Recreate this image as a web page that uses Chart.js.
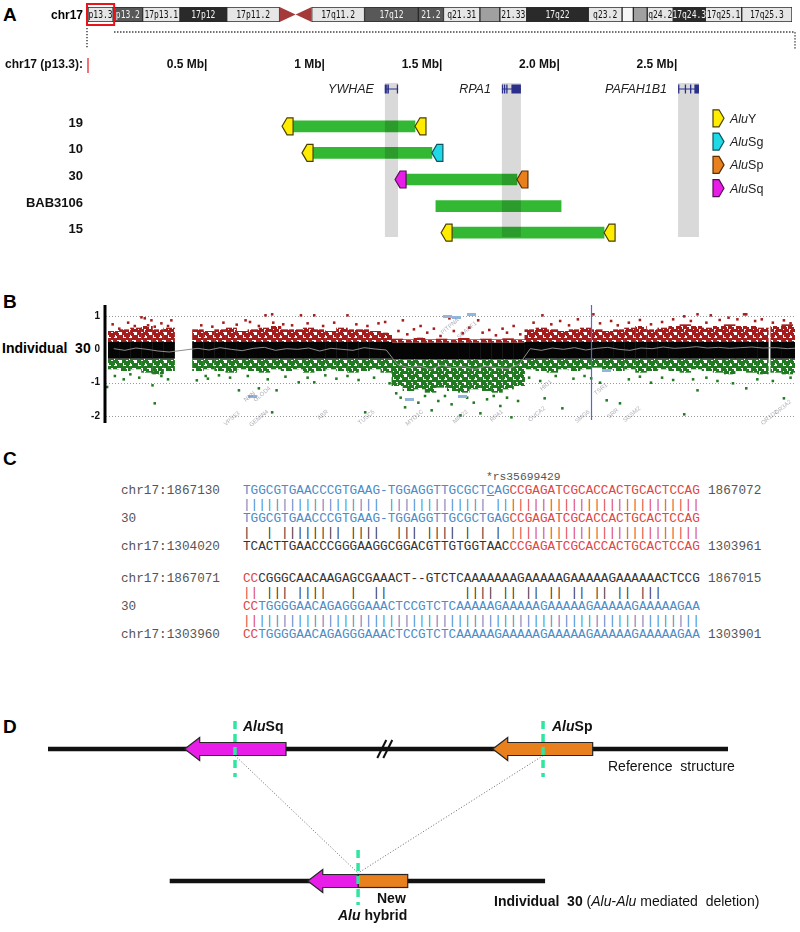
<!DOCTYPE html>
<html>
<head>
<meta charset="utf-8">
<title>chr17p13.3 Alu-Alu deletions</title>
<script src="https://cdn.jsdelivr.net/npm/chart.js@4.4.1/dist/chart.umd.min.js"></script>
<style>
  body { margin: 0; background: #fff; }
  #page { position: relative; width: 800px; height: 932px; overflow: hidden; font-family: "Liberation Sans", Arial, sans-serif; }
  #page canvas { position: absolute; left: 0; }
  .panel { position: absolute; left: 3px; font-weight: bold; font-size: 19px; line-height: 20px; }
  .mono { position: absolute; font-family: "Liberation Mono", "Courier New", monospace; font-size: 12.69px; line-height: 16px; white-space: pre; color: #555; }
</style>
</head>
<body>
<div id="page">
  <div class="panel" style="top:5px">A</div>
  <div class="panel" style="top:292px">B</div>
  <div class="panel" style="top:449px">C</div>
  <div class="panel" style="top:717px">D</div>
  <div style="position:absolute;left:2px;top:339px;font-weight:bold;font-size:14px;line-height:18px">Individual&nbsp; 30</div>
  <canvas id="regionChart" width="800" height="212" style="top:40px"></canvas>
  <canvas id="ideoChart" width="800" height="55" style="top:0px"></canvas>
  <canvas id="cghChart" width="800" height="135" style="top:295px"></canvas>
  <div id="alignment"></div>
  <canvas id="modelChart" width="800" height="230" style="top:700px"></canvas>
</div>
<script>
// ---------- A: chromosome 17 ideogram (Mb) ----------
var bandEdges = [0, 2.9, 6.3, 10.6, 16.0, 22.1, 25.8, 31.9, 38.1, 41.0, 45.2, 47.5, 50.6, 57.7, 61.6, 62.9, 64.5, 67.5, 71.2, 75.4, 81.2];
var bandNames = ['p13.3', 'p13.2', '17p13.1', '17p12', '17p11.2', '', '17q11.2', '17q12', '21.2', 'q21.31', '', '21.33', '17q22', 'q23.2', '', '', 'q24.2', '17q24.3', '17q25.1', '17q25.3'];
var bandStain = ['light', 'dark2', 'light', 'dark', 'light', 'cen', 'light', 'dark2', 'dark2', 'light', 'mid', 'light', 'dark', 'light', 'white', 'mid', 'light', 'dark', 'light', 'light'];

// ---------- A: deletions in 17p13.3 (Mb) ----------
var patients = ['19', '10', '30', 'BAB3106', '15'];
var delStart = [0.873, 0.958, 1.354, 1.481, 1.550];
var delEnd = [1.392, 1.464, 1.826, 2.014, 2.197];
var aluStart = ['AluY', 'AluY', 'AluSq', null, 'AluY'];
var aluEnd = ['AluY', 'AluSg', 'AluSp', null, 'AluY'];
var geneNames = ['YWHAE', 'RPA1', 'PAFAH1B1'];
var geneStart = [1.264, 1.762, 2.512];
var geneEnd = [1.320, 1.843, 2.601];
var mbTicks = [0.5, 1, 1.5, 2.0, 2.5];
var mbTickLabels = ['0.5 Mb|', '1 Mb|', '1.5 Mb|', '2.0 Mb|', '2.5 Mb|'];
var aluTypes = ['Y', 'Sg', 'Sp', 'Sq'];

// ---------- B: array CGH, individual 30 ----------
var cghBinMb = [0.025, 0.075, 0.125, 0.175, 0.225, 0.275,
  0.405, 0.455, 0.505, 0.555, 0.605, 0.655, 0.705, 0.755, 0.805, 0.855,
  0.905, 0.955, 1.005, 1.055, 1.105, 1.155, 1.205, 1.255,
  1.305, 1.355, 1.405, 1.455, 1.505, 1.555, 1.605, 1.655, 1.705, 1.755, 1.805, 1.855,
  1.905, 1.955, 2.005, 2.055, 2.105, 2.155, 2.205, 2.255, 2.305, 2.355,
  2.405, 2.455, 2.505, 2.555, 2.605, 2.655, 2.705, 2.755, 2.805, 2.855, 2.905, 2.955,
  3.015, 3.065, 3.115];
var cghRedTop = [0.55, 0.6, 0.65, 0.7, 0.6, 0.65,
  0.6, 0.55, 0.6, 0.65, 0.55, 0.6, 0.65, 0.7, 0.6, 0.6,
  0.65, 0.6, 0.55, 0.65, 0.6, 0.6, 0.55, 0.5,
  0.32, 0.3, 0.35, 0.3, 0.32, 0.3, 0.34, 0.3, 0.32, 0.3, 0.33, 0.3,
  0.6, 0.65, 0.6, 0.55, 0.6, 0.65, 0.6, 0.55, 0.6, 0.65,
  0.7, 0.6, 0.65, 0.7, 0.75, 0.7, 0.65, 0.7, 0.75, 0.7, 0.7, 0.65,
  0.7, 0.75, 0.7];
var cghBlackTop = [0.22, 0.22, 0.22, 0.22, 0.22, 0.22,
  0.22, 0.22, 0.22, 0.22, 0.22, 0.22, 0.22, 0.22, 0.22, 0.22,
  0.22, 0.22, 0.22, 0.22, 0.22, 0.22, 0.22, 0.22,
  0.2, 0.2, 0.2, 0.2, 0.2, 0.2, 0.2, 0.2, 0.2, 0.2, 0.2, 0.2,
  0.22, 0.22, 0.22, 0.22, 0.22, 0.22, 0.22, 0.22, 0.22, 0.22,
  0.22, 0.22, 0.22, 0.22, 0.22, 0.22, 0.22, 0.22, 0.22, 0.22, 0.22, 0.22,
  0.22, 0.22, 0.22];
var cghBlackBottom = [-0.28, -0.28, -0.28, -0.28, -0.28, -0.28,
  -0.28, -0.28, -0.28, -0.28, -0.28, -0.28, -0.28, -0.28, -0.28, -0.28,
  -0.28, -0.28, -0.28, -0.28, -0.28, -0.28, -0.28, -0.28,
  -0.3, -0.3, -0.3, -0.3, -0.3, -0.3, -0.3, -0.3, -0.3, -0.3, -0.3, -0.3,
  -0.28, -0.28, -0.28, -0.28, -0.28, -0.28, -0.28, -0.28, -0.28, -0.28,
  -0.28, -0.28, -0.28, -0.28, -0.28, -0.28, -0.28, -0.28, -0.28, -0.28, -0.28, -0.28,
  -0.28, -0.28, -0.28];
var cghGreenBottom = [-0.6, -0.65, -0.6, -0.7, -0.75, -0.65,
  -0.65, -0.6, -0.65, -0.7, -0.6, -0.65, -0.7, -0.6, -0.65, -0.6,
  -0.7, -0.65, -0.6, -0.65, -0.7, -0.65, -0.6, -0.7,
  -1.1, -1.25, -1.2, -1.3, -1.15, -1.25, -1.3, -1.2, -1.25, -1.3, -1.2, -1.1,
  -0.6, -0.65, -0.7, -0.6, -0.65, -0.6, -0.55, -0.6, -0.65, -0.6,
  -0.7, -0.65, -0.6, -0.65, -0.7, -0.6, -0.65, -0.7, -0.75, -0.65, -0.7, -0.75,
  -0.7, -0.75, -0.7];
var cghAvg = [0.02, -0.03, 0.04, 0.0, -0.05, -0.08,
  0.03, -0.02, 0.05, 0.0, -0.04, 0.03, 0.06, -0.03, 0.02, 0.0,
  0.04, -0.05, 0.03, 0.0, -0.03, 0.05, 0.01, -0.02,
  -0.45, -0.55, -0.5, -0.6, -0.48, -0.55, -0.52, -0.6, -0.5, -0.55, -0.58, -0.45,
  0.02, -0.03, 0.04, 0.0, 0.05, -0.02, 0.03, 0.06, 0.0, -0.03,
  0.04, 0.02, 0.07, 0.03, 0.05, 0.08, 0.04, 0.06, 0.03, 0.05, 0.07, 0.04,
  0.05, 0.02, 0.04];
var cghRedDots = [[0.02, 0.75], [0.05, 0.62], [0.09, 0.8], [0.12, 0.7], [0.15, 0.96], [0.165, 0.93], [0.18, 0.72], [0.195, 0.87], [0.21, 0.68], [0.24, 0.78], [0.27, 0.7], [0.285, 0.87],
  [0.42, 0.72], [0.47, 0.68], [0.52, 0.8], [0.58, 0.74], [0.62, 0.87], [0.64, 0.82], [0.68, 0.7], [0.71, 1.02], [0.74, 1.05], [0.745, 0.8], [0.79, 0.75], [0.83, 0.72], [0.87, 1.02], [0.9, 0.78], [0.93, 1.02], [0.97, 0.7], [1.02, 0.8], [1.08, 1.02], [1.12, 0.75], [1.17, 0.7], [1.22, 0.78], [1.25, 0.82],
  [1.31, 0.55], [1.33, 0.87], [1.35, 0.45], [1.38, 0.6], [1.41, 0.7], [1.44, 0.5], [1.47, 0.62], [1.5, 0.4], [1.54, 0.93], [1.56, 0.55], [1.6, 0.48], [1.63, 0.65], [1.67, 0.87], [1.69, 0.5], [1.72, 0.58], [1.75, 0.42], [1.78, 0.62], [1.8, 0.5], [1.83, 0.7], [1.86, 0.45],
  [1.92, 0.8], [1.96, 1.02], [2.0, 0.75], [2.04, 0.85], [2.08, 0.72], [2.12, 0.9], [2.19, 1.05], [2.22, 0.78], [2.27, 0.85], [2.3, 0.72], [2.35, 0.8], [2.4, 0.88], [2.45, 0.75], [2.5, 0.82], [2.55, 0.9], [2.6, 0.99], [2.63, 0.85], [2.66, 1.05], [2.7, 0.8], [2.72, 1.02], [2.76, 0.88], [2.8, 0.95], [2.84, 0.9], [2.87, 1.05], [2.88, 1.05], [2.92, 0.85], [2.95, 0.9], [3.0, 0.8], [3.05, 0.87], [3.08, 0.78]];
var cghGreenDots = [[-0.005, -1.13], [0.03, -0.8], [0.07, -0.9], [0.1, -0.75], [0.14, -0.85], [0.2, -0.69], [0.2, -1.08], [0.21, -1.62], [0.24, -0.8], [0.27, -0.9],
  [0.4, -0.93], [0.44, -0.8], [0.45, -0.88], [0.5, -0.78], [0.55, -0.85], [0.59, -1.23], [0.63, -0.8], [0.68, -1.17], [0.72, -0.9], [0.74, -1.89], [0.76, -1.23], [0.8, -0.82], [0.86, -0.99], [0.9, -0.85], [0.93, -0.99], [0.98, -0.78], [1.03, -0.88], [1.08, -0.8], [1.13, -0.92], [1.16, -1.89], [1.2, -0.85], [1.27, -1.02],
  [1.3, -1.32], [1.32, -1.45], [1.34, -1.74], [1.37, -1.5], [1.4, -1.6], [1.43, -1.4], [1.46, -1.83], [1.49, -1.55], [1.52, -1.4], [1.55, -1.65], [1.59, -1.98], [1.62, -1.45], [1.65, -1.6], [1.68, -1.92], [1.71, -1.5], [1.74, -1.4], [1.77, -1.7], [1.8, -1.45], [1.82, -2.04], [1.85, -1.55],
  [1.9, -0.85], [1.95, -0.95], [1.97, -1.47], [2.02, -0.8], [2.05, -1.77], [2.1, -0.88], [2.15, -0.8], [2.18, -0.87], [2.22, -1.0], [2.25, -1.53], [2.31, -1.62], [2.35, -0.9], [2.4, -0.82], [2.45, -1.0], [2.5, -0.85], [2.55, -0.92], [2.6, -1.95], [2.64, -0.9], [2.66, -1.23], [2.7, -0.85], [2.75, -0.95], [2.82, -1.02], [2.88, -1.17], [2.93, -0.9], [3.0, -0.95], [3.05, -1.47], [3.08, -0.85]];
var cghGeneBoxes = [[1.53, 0.98], [1.57, 0.95], [1.64, 1.04], [1.36, -1.5], [1.6, -1.4], [2.25, -0.62], [0.65, -1.42]];
var cghGeneNames = ['VPS53', 'GEMIN4', 'NXN', 'GLOD4', 'ABR', 'TUSC5', 'MYO1C', 'PITPNA', 'SCARF1', 'MIR22', 'RPA1', 'OVCA2', 'HIC1', 'SMG6', 'TSR1', 'SRR', 'SGSM2', 'OR1D2', 'OR3A2'];
var cghGeneMb = [0.59, 0.72, 0.66, 0.73, 0.99, 1.2, 1.42, 1.58, 1.66, 1.62, 1.78, 1.97, 2.0, 2.17, 2.25, 2.3, 2.4, 3.02, 3.08];
var cghGeneY = [-1.9, -1.85, -1.3, -1.15, -1.85, -1.85, -1.85, 0.9, 0.8, -1.85, -1.85, -1.75, -0.95, -1.85, -1.05, -1.8, -1.75, -1.85, -1.55];
var cghTicks = [1, 0, -1, -2];
var cghGrid = [1, -1, -2];
var cghMarkerMb = 2.178;

// ---------- C: breakpoint sequences ----------
var alnLabels = [['chr17:1867130', '30', 'chr17:1304020'], ['chr17:1867071', '30', 'chr17:1303960']];
var alnSeqs = [
  ['TGGCGTGAACCCGTGAAG-TGGAGGTTGCGCTCAGCCGAGATCGCACCACTGCACTCCAG',
   'TGGCGTGAACCCGTGAAG-TGGAGGTTGCGCTGAGCCGAGATCGCACCACTGCACTCCAG',
   'TCACTTGAACCCGGGAAGGCGGACGTTGTGGTAACCCGAGATCGCACCACTGCACTCCAG'],
  ['CCCGGGCAACAAGAGCGAAACT--GTCTCAAAAAAAGAAAAAGAAAAAGAAAAAACTCCG',
   'CCTGGGGAACAGAGGGAAACTCCGTCTCAAAAAGAAAAAGAAAAAGAAAAAGAAAAAGAA',
   'CCTGGGGAACAGAGGGAAACTCCGTCTCAAAAAGAAAAAGAAAAAGAAAAAGAAAAAGAA']];
var alnEnds = [['1867072', '', '1303961'], ['1867015', '', '1303901']];
var snpLabel = '*rs35699429';
var snpIndex = 32;

// ---------- D: model (schematic units) ----------
var refSpan = [0, 100];
var refBreak = 49.6;
var indSpan = [17.9, 73.1];
var aluSqRef = [20.1, 35.0];
var aluSpRef = [65.4, 80.1];
var hybridSq = [38.2, 45.6];
var hybridSp = [45.6, 52.9];
var cutSq = 27.5, cutSp = 72.8, cutHybrid = 45.6;

var SANS = '"Liberation Sans", Arial, sans-serif';
var BLUE = '#4a8cc8', RED = '#e04444', DARK = '#333';
var aluColors = { Y: '#ffec00', Sg: '#1fd9e6', Sp: '#e8801e', Sq: '#e81ee8' };
var aluEdges = { Y: '#4a4000', Sg: '#0b5560', Sp: '#5a2e00', Sq: '#501050' };
var stainColor = { light: '#e6e6e6', white: '#f7f7f7', mid: '#a0a0a0', dark2: '#585858', dark: '#2a2a2a', cen: 'rgba(0,0,0,0)' };

Chart.defaults.font.family = SANS;
Chart.defaults.animation = false;
Chart.defaults.events = [];
Chart.defaults.plugins.legend.display = false;
Chart.defaults.plugins.tooltip.enabled = false;

function font(style, size) { return style + ' ' + size + 'px ' + SANS; }

function richText(ctx, parts, x, y, align) {
  var w = 0;
  parts.forEach(function (p) { ctx.font = p[1]; w += ctx.measureText(p[0]).width; });
  var cx = align === 'center' ? x - w / 2 : x;
  ctx.textAlign = 'left';
  ctx.textBaseline = 'middle';
  parts.forEach(function (p) { ctx.font = p[1]; ctx.fillText(p[0], cx, y); cx += ctx.measureText(p[0]).width; });
}

// small Alu pentagon, dir -1 = tip on the left
function aluTag(ctx, left, y, type, dir) {
  var w = 11, h = 17, t = 5;
  ctx.beginPath();
  if (dir < 0) {
    ctx.moveTo(left, y); ctx.lineTo(left + t, y - h / 2); ctx.lineTo(left + w, y - h / 2);
    ctx.lineTo(left + w, y + h / 2); ctx.lineTo(left + t, y + h / 2);
  } else {
    ctx.moveTo(left + w, y); ctx.lineTo(left + w - t, y - h / 2); ctx.lineTo(left, y - h / 2);
    ctx.lineTo(left, y + h / 2); ctx.lineTo(left + w - t, y + h / 2);
  }
  ctx.closePath();
  ctx.fillStyle = aluColors[type]; ctx.fill();
  ctx.strokeStyle = aluEdges[type]; ctx.lineWidth = 1.2; ctx.stroke();
}

// ----- ideogram -----
var ideoPlugin = {
  id: 'ideo',
  afterDatasetsDraw: function (chart) {
    var ctx = chart.ctx, x = chart.scales.x, a = chart.chartArea;
    var top = a.top, bot = a.bottom, mid = (top + bot) / 2;
    ctx.save();
    var ci = bandStain.indexOf('cen');
    var c0 = x.getPixelForValue(bandEdges[ci]), c1 = x.getPixelForValue(bandEdges[ci + 1]), cm = (c0 + c1) / 2;
    ctx.fillStyle = '#a53a3a';
    ctx.beginPath(); ctx.moveTo(c0, top); ctx.lineTo(cm, mid); ctx.lineTo(c0, bot); ctx.closePath(); ctx.fill();
    ctx.beginPath(); ctx.moveTo(c1, top); ctx.lineTo(cm, mid); ctx.lineTo(c1, bot); ctx.closePath(); ctx.fill();
    ctx.font = '10px "DejaVu Sans Mono", monospace';
    ctx.textAlign = 'center'; ctx.textBaseline = 'middle';
    bandNames.forEach(function (n, i) {
      if (!n) return;
      var s = bandStain[i];
      var cx = (x.getPixelForValue(bandEdges[i]) + x.getPixelForValue(bandEdges[i + 1])) / 2;
      ctx.fillStyle = (s === 'dark' || s === 'dark2') ? '#f2f2f2' : '#111';
      ctx.save();
      ctx.translate(cx, mid + 0.5);
      ctx.scale(0.8, 1);
      ctx.fillText(n, 0, 0);
      ctx.restore();
    });
    var b0 = x.getPixelForValue(bandEdges[0]), b1 = x.getPixelForValue(bandEdges[1]);
    ctx.strokeStyle = '#e8141c'; ctx.lineWidth = 2;
    ctx.strokeRect(b0 - 1, top - 3, b1 - b0 + 2, bot - top + 6);
    ctx.fillStyle = '#000'; ctx.font = font('bold', 12); ctx.textAlign = 'right';
    ctx.fillText('chr17', b0 - 5, mid + 1);
    ctx.strokeStyle = '#222'; ctx.lineWidth = 1.3; ctx.setLineDash([1.3, 1.7]);
    ctx.beginPath();
    ctx.moveTo(b0 - 1, bot + 6); ctx.lineTo(b0 - 1, 48);
    ctx.moveTo(b1 + 1, 32); ctx.lineTo(795, 32); ctx.lineTo(795, 50);
    ctx.stroke();
    ctx.restore();
  }
};

new Chart(document.getElementById('ideoChart'), {
  type: 'bar',
  data: {
    labels: ['chr17'],
    datasets: bandNames.map(function (n, i) {
      return {
        data: [[bandEdges[i], bandEdges[i + 1]]],
        backgroundColor: stainColor[bandStain[i]],
        borderColor: bandStain[i] === 'cen' ? 'rgba(0,0,0,0)' : '#2a2a2a',
        borderWidth: 1, borderSkipped: false, grouped: false,
        barPercentage: 1, categoryPercentage: 1
      };
    })
  },
  options: {
    indexAxis: 'y', responsive: false,
    layout: { padding: { left: 88, right: 8, top: 7, bottom: 33 } },
    scales: { x: { type: 'linear', min: 0, max: 81.2, display: false }, y: { display: false } }
  },
  plugins: [ideoPlugin]
});

// ----- deletion map -----
var geneExons = [[0.03, 0.14, 0.25, 0.95], [0.03, 0.14, 0.26], [0.03, 0.35, 0.6]];
var geneThick = [null, [0.5, 1], [0.78, 1]];

var regionPlugin = {
  id: 'region',
  afterDatasetsDraw: function (chart) {
    var ctx = chart.ctx, x = chart.scales.x, y = chart.scales.y;
    ctx.save();
    ctx.fillStyle = 'rgba(0,0,0,0.15)';
    geneNames.forEach(function (g, i) {
      var x0 = x.getPixelForValue(geneStart[i]), x1 = x.getPixelForValue(geneEnd[i]);
      ctx.fillRect(x0, 43, x1 - x0, 154);
    });
    geneNames.forEach(function (g, i) {
      var x0 = x.getPixelForValue(geneStart[i]), x1 = x.getPixelForValue(geneEnd[i]), w = x1 - x0, gy = 49;
      ctx.strokeStyle = '#2b2f8a'; ctx.fillStyle = '#2b2f8a'; ctx.lineWidth = 1;
      ctx.beginPath(); ctx.moveTo(x0, gy); ctx.lineTo(x1, gy); ctx.stroke();
      geneExons[i].forEach(function (t) { ctx.fillRect(x0 + t * w - 0.6, gy - 4.5, 1.3, 9); });
      if (geneThick[i]) ctx.fillRect(x0 + geneThick[i][0] * w, gy - 4.5, (geneThick[i][1] - geneThick[i][0]) * w, 9);
      ctx.fillStyle = '#222'; ctx.font = font('italic', 12.5);
      ctx.textAlign = 'right'; ctx.textBaseline = 'middle';
      ctx.fillText(g, x0 - 11, gy + 1);
    });
    // tag each breakpoint with its Alu element
    patients.forEach(function (p, i) {
      var yc = y.getPixelForValue(i);
      if (aluStart[i]) aluTag(ctx, x.getPixelForValue(delStart[i]) - 11, yc, aluStart[i].slice(3), -1);
      if (aluEnd[i]) aluTag(ctx, x.getPixelForValue(delEnd[i]), yc, aluEnd[i].slice(3), -1);
      ctx.fillStyle = '#111'; ctx.font = font('bold', 13);
      ctx.textAlign = 'right'; ctx.textBaseline = 'middle';
      ctx.fillText(p, 83, yc - 3);
    });
    ctx.font = font('bold', 12); ctx.fillStyle = '#111'; ctx.textAlign = 'right'; ctx.textBaseline = 'middle';
    mbTicks.forEach(function (v, i) { ctx.fillText(mbTickLabels[i], x.getPixelForValue(v) + 2, 25); });
    ctx.fillText('chr17 (p13.3):', 83, 25);
    ctx.strokeStyle = '#e8141c'; ctx.lineWidth = 1.2;
    ctx.beginPath(); ctx.moveTo(x.getPixelForValue(0), 18); ctx.lineTo(x.getPixelForValue(0), 33); ctx.stroke();
    // legend
    aluTypes.forEach(function (t, k) {
      var ly = 78.3 + 23.3 * k;
      aluTag(ctx, 713, ly, t, 1);
      ctx.fillStyle = '#222';
      richText(ctx, [['Alu', font('italic', 12.5)], [t, font('', 12.5)]], 730, ly + 1, 'left');
    });
    ctx.restore();
  }
};

new Chart(document.getElementById('regionChart'), {
  type: 'bar',
  data: {
    labels: patients,
    datasets: [{
      data: patients.map(function (p, i) { return [delStart[i], delEnd[i]]; }),
      backgroundColor: '#33b833', barThickness: 11, borderSkipped: false, borderWidth: 0
    }]
  },
  options: {
    indexAxis: 'y', responsive: false,
    layout: { padding: { left: 88, right: 7.3, top: 73, bottom: 6 } },
    scales: { x: { type: 'linear', min: 0, max: 3, display: false }, y: { display: false } }
  },
  plugins: [regionPlugin]
});

// ----- CGH scatter -----
var boxImg = document.createElement('canvas');
boxImg.width = 9; boxImg.height = 3;
(function () { var c = boxImg.getContext('2d'); c.fillStyle = '#93b6d8'; c.fillRect(0, 0, 9, 3); })();

// speckle fill so the dense probe clouds read as points, not slabs
var speckleSpots = [[0, 0], [3, 1], [6, 0], [9, 1], [12, 0], [1, 3], [4, 4], [8, 3], [11, 4], [0, 6], [3, 7], [6, 6], [10, 7], [13, 6],
  [2, 9], [5, 10], [8, 9], [11, 10], [0, 12], [4, 12], [7, 12], [12, 12]];
function speckle(color) {
  var c = document.createElement('canvas');
  c.width = 15; c.height = 14;
  var g = c.getContext('2d');
  g.fillStyle = color;
  speckleSpots.forEach(function (s) { g.fillRect(s[0], s[1], 3, 3); });
  return g.createPattern(c, 'repeat');
}

var cghPlugin = {
  id: 'cgh',
  beforeDatasetsDraw: function (chart) {
    var ctx = chart.ctx, y = chart.scales.y, a = chart.chartArea;
    ctx.save();
    ctx.strokeStyle = '#9a9a9a'; ctx.lineWidth = 1; ctx.setLineDash([1, 2]);
    cghGrid.forEach(function (v) {
      var py = Math.round(y.getPixelForValue(v)) + 0.5;
      ctx.beginPath(); ctx.moveTo(a.left, py); ctx.lineTo(a.right, py); ctx.stroke();
    });
    ctx.restore();
  },
  afterDatasetsDraw: function (chart) {
    var ctx = chart.ctx, x = chart.scales.x, y = chart.scales.y, a = chart.chartArea;
    ctx.save();
    ctx.fillStyle = 'rgba(110,110,125,0.55)'; ctx.font = '6px ' + SANS;
    ctx.textAlign = 'right'; ctx.textBaseline = 'middle';
    cghGeneNames.forEach(function (n, i) {
      ctx.save();
      ctx.translate(x.getPixelForValue(cghGeneMb[i]), y.getPixelForValue(cghGeneY[i]));
      ctx.rotate(-0.7);
      ctx.fillText(n, 0, 0);
      ctx.restore();
    });
    var mx = Math.round(x.getPixelForValue(cghMarkerMb)) + 0.5;
    ctx.strokeStyle = '#5565d8'; ctx.lineWidth = 1.2;
    ctx.beginPath(); ctx.moveTo(mx, a.top); ctx.lineTo(mx, a.bottom); ctx.stroke();
    ctx.strokeStyle = '#000'; ctx.lineWidth = 3;
    ctx.beginPath(); ctx.moveTo(a.left - 1, a.top); ctx.lineTo(a.left - 1, a.bottom + 3); ctx.stroke();
    ctx.fillStyle = '#111'; ctx.font = font('bold', 10);
    ctx.textAlign = 'right'; ctx.textBaseline = 'middle';
    cghTicks.forEach(function (v) { ctx.fillText(String(v), a.left - 6, y.getPixelForValue(v)); });
    ctx.restore();
  }
};

function binBars(lo, hi) {
  return cghBinMb.map(function (m, i) { return { x: m, y: [lo[i], hi[i]] }; });
}
function dots(list) { return list.map(function (p) { return { x: p[0], y: p[1] }; }); }

new Chart(document.getElementById('cghChart'), {
  type: 'bar',
  data: {
    datasets: [
      { type: 'line', data: cghBinMb.map(function (m, i) { return { x: m, y: cghAvg[i] }; }), borderColor: '#8c8c8c', borderWidth: 1, pointRadius: 0, order: 0 },
      { type: 'scatter', data: dots(cghGeneBoxes), pointStyle: boxImg, order: 1 },
      { type: 'scatter', data: dots(cghRedDots), pointStyle: 'rect', pointRadius: 1.8, backgroundColor: '#a51c1c', borderWidth: 0, order: 1 },
      { type: 'scatter', data: dots(cghGreenDots), pointStyle: 'rect', pointRadius: 1.8, backgroundColor: '#217a21', borderWidth: 0, order: 1 },
      { data: binBars(cghBlackBottom, cghBlackTop), backgroundColor: '#050505', grouped: false, barPercentage: 1.04, categoryPercentage: 1, borderWidth: 0, order: 2 },
      { data: binBars(cghBlackTop, cghRedTop), backgroundColor: speckle('#a51c1c'), grouped: false, barPercentage: 1.04, categoryPercentage: 1, borderWidth: 0, order: 3 },
      { data: binBars(cghGreenBottom, cghBlackBottom), backgroundColor: speckle('#217a21'), grouped: false, barPercentage: 1.04, categoryPercentage: 1, borderWidth: 0, order: 3 }
    ]
  },
  options: {
    responsive: false,
    layout: { padding: { left: 106, right: 3, top: 10, bottom: 10 } },
    scales: {
      x: { type: 'linear', min: -0.01, max: 3.1, offset: false, display: false },
      y: { type: 'linear', min: -2.12, max: 1.33, display: false }
    }
  },
  plugins: [cghPlugin]
});

// ----- C: alignment text -----
var alnSeqColors = [[[[0, BLUE], [35, RED]], [[0, BLUE], [35, RED]], [[0, DARK], [35, RED]]],
                    [[[0, RED], [2, DARK]], [[0, RED], [2, BLUE]], [[0, RED], [2, BLUE]]]];
var alnBarColors = [[[[0, BLUE], [35, RED]], [[0, DARK], [35, RED]]],
                    [[[0, RED], [2, DARK]], [[0, RED], [2, BLUE]]]];
var alnTops = [491, 579];
var alnStep = 13.9;

function matchBars(a, b) {
  var s = '';
  for (var i = 0; i < a.length; i++) s += (a[i] === b[i] && a[i] !== '-') ? '|' : ' ';
  return s;
}
function colorize(str, cuts, underline) {
  var html = '';
  cuts.forEach(function (c, k) {
    var end = k + 1 < cuts.length ? cuts[k + 1][0] : str.length;
    var part = '';
    for (var i = c[0]; i < end; i++) part += (i === underline) ? '<u>' + str[i] + '</u>' : str[i];
    html += '<span style="color:' + c[1] + '">' + part + '</span>';
  });
  return html;
}
function monoDiv(left, yc, html, size) {
  var d = document.createElement('div');
  d.className = 'mono';
  d.style.left = left + 'px';
  d.style.top = (yc - 8) + 'px';
  if (size) d.style.fontSize = size + 'px';
  d.innerHTML = html;
  document.getElementById('alignment').appendChild(d);
}
alnSeqs.forEach(function (block, b) {
  block.forEach(function (seq, r) {
    var yc = alnTops[b] + r * 2 * alnStep;
    monoDiv(121, yc, alnLabels[b][r]);
    monoDiv(243, yc, colorize(seq, alnSeqColors[b][r], b === 0 && r === 0 ? snpIndex : -1));
    if (alnEnds[b][r]) monoDiv(708, yc, alnEnds[b][r]);
    if (r < 2) monoDiv(243, yc + alnStep, colorize(matchBars(seq, block[r + 1]), alnBarColors[b][r], -1));
  });
});
monoDiv(486, 477, snpLabel, 11.3);

// ----- D: model -----
function bigArrow(ctx, xTip, xTail, y, fill) {
  var hl = 15, bh = 6.5, hh = 11.5;
  ctx.beginPath();
  ctx.moveTo(xTip, y); ctx.lineTo(xTip + hl, y - hh); ctx.lineTo(xTip + hl, y - bh);
  ctx.lineTo(xTail, y - bh); ctx.lineTo(xTail, y + bh); ctx.lineTo(xTip + hl, y + bh);
  ctx.lineTo(xTip + hl, y + hh); ctx.closePath();
  ctx.fillStyle = fill; ctx.fill();
  ctx.strokeStyle = '#262626'; ctx.lineWidth = 1.2; ctx.stroke();
}
function cutMark(ctx, px, y0, y1) {
  ctx.save();
  ctx.strokeStyle = '#2fe6a0'; ctx.lineWidth = 3.5; ctx.setLineDash([8, 5]);
  ctx.beginPath(); ctx.moveTo(px, y0); ctx.lineTo(px, y1); ctx.stroke();
  ctx.restore();
}

var modelPlugin = {
  id: 'model',
  afterDatasetsDraw: function (chart) {
    var ctx = chart.ctx, x = chart.scales.x, y = chart.scales.y;
    var ry = y.getPixelForValue(1), iy = y.getPixelForValue(0);
    ctx.save();
    // break symbol on the reference line
    var bx = x.getPixelForValue(refBreak);
    ctx.strokeStyle = '#111'; ctx.lineWidth = 2;
    [0, 6].forEach(function (dx) {
      ctx.beginPath(); ctx.moveTo(bx - 8 + dx, ry + 9); ctx.lineTo(bx + 1 + dx, ry - 9); ctx.stroke();
    });
    bigArrow(ctx, x.getPixelForValue(aluSqRef[0]), x.getPixelForValue(aluSqRef[1]), ry, aluColors.Sq);
    bigArrow(ctx, x.getPixelForValue(aluSpRef[0]), x.getPixelForValue(aluSpRef[1]), ry, aluColors.Sp);
    // hybrid: AluSp tail then AluSq head
    var j0 = x.getPixelForValue(hybridSp[0]), j1 = x.getPixelForValue(hybridSp[1]);
    ctx.fillStyle = aluColors.Sp; ctx.fillRect(j0, iy - 6.5, j1 - j0, 13);
    ctx.strokeStyle = '#262626'; ctx.lineWidth = 1.2; ctx.strokeRect(j0, iy - 6.5, j1 - j0, 13);
    bigArrow(ctx, x.getPixelForValue(hybridSq[0]), x.getPixelForValue(hybridSq[1]), iy, aluColors.Sq);
    cutMark(ctx, x.getPixelForValue(cutSq), ry - 28, ry + 28);
    cutMark(ctx, x.getPixelForValue(cutSp), ry - 28, ry + 28);
    cutMark(ctx, x.getPixelForValue(cutHybrid), iy - 31, iy + 24);
    ctx.fillStyle = '#111';
    richText(ctx, [['Alu', font('italic bold', 14)], ['Sq', font('bold', 14)]], 243, 27, 'left');
    richText(ctx, [['Alu', font('italic bold', 14)], ['Sp', font('bold', 14)]], 552, 27, 'left');
    richText(ctx, [['Reference  structure', font('', 14)]], 608, 67, 'left');
    richText(ctx, [['New', font('bold', 14)]], 377, 199, 'left');
    richText(ctx, [['Alu', font('italic bold', 14)], [' hybrid', font('bold', 14)]], 338, 216, 'left');
    richText(ctx, [['Individual  30 ', font('bold', 14)], ['(', font('', 14)], ['Alu', font('italic', 14)], ['-', font('', 14)],
      ['Alu', font('italic', 14)], [' mediated  deletion)', font('', 14)]], 494, 202, 'left');
    ctx.restore();
  }
};

function seg(x0, y0, x1, y1) { return [{ x: x0, y: y0 }, { x: x1, y: y1 }]; }

new Chart(document.getElementById('modelChart'), {
  type: 'scatter',
  data: {
    datasets: [
      { type: 'line', data: seg(refSpan[0], 1, refSpan[1], 1), borderColor: '#111', borderWidth: 4.5, pointRadius: 0, clip: false },
      { type: 'line', data: seg(indSpan[0], 0, indSpan[1], 0), borderColor: '#111', borderWidth: 4.5, pointRadius: 0, clip: false },
      { type: 'line', data: seg(cutSq, 0.95, cutHybrid, 0.06), borderColor: '#555', borderWidth: 0.9, borderDash: [1, 2], pointRadius: 0 },
      { type: 'line', data: seg(cutSp, 0.95, cutHybrid, 0.06), borderColor: '#555', borderWidth: 0.9, borderDash: [1, 2], pointRadius: 0 }
    ]
  },
  options: {
    responsive: false,
    layout: { padding: { left: 48, right: 72, top: 49, bottom: 49 } },
    scales: {
      x: { type: 'linear', min: 0, max: 100, display: false },
      y: { type: 'linear', min: 0, max: 1, display: false }
    }
  },
  plugins: [modelPlugin]
});
</script>
</body>
</html>
